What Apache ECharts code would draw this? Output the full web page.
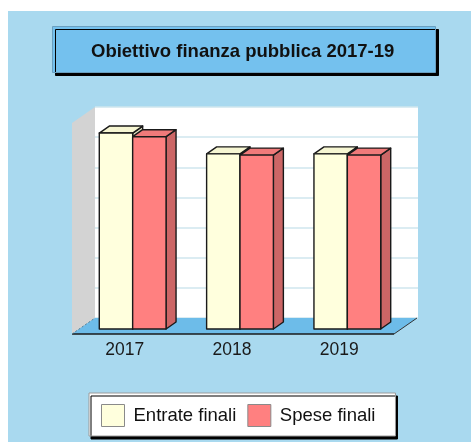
<!DOCTYPE html>
<html>
<head>
<meta charset="utf-8">
<script src="https://cdn.jsdelivr.net/npm/echarts@6/dist/echarts.min.js"></script>
<style>
  html, body { margin: 0; padding: 0; background: #ffffff; }
  #panel { position: absolute; left: 8px; top: 11px; width: 463px; height: 431px; background: #a9d9ef; }
  #chart { position: absolute; left: 0; top: 0; width: 471px; height: 442px; }
</style>
</head>
<body>
<div id="panel"></div>
<div id="chart"></div>
<script>
// Categories and values
const years = ['2017', '2018', '2019'];
const entrateFinali = [65.0, 58.1, 58.1];
const speseFinali = [63.8, 57.7, 57.7];
const seriesNames = ['Entrate finali', 'Spese finali'];

// Scale of the value axis
const AXIS_MAX = 70;
const AXIS_STEP = 10;

// Oblique projection offsets (px) relative to the bar plane
const BAR_DEPTH = [10, 7];      // bar thickness
const FLOOR_FRONT = [-7, 5];    // front edge of the floor
const FLOOR_BACK = [16, -11];   // back wall plane
const BAR_FRAC = 0.311;         // bar width as a fraction of a category band

const palette = {
  entrate: { front: '#ffffdd', top: '#f6f6d2', side: '#e0e0c0' },
  spese: { front: '#ff8080', top: '#f07a7a', side: '#cc6666' }
};

function barRenderer(slot, c) {
  return function (params, api) {
    const cat = api.value(0);
    const val = api.value(1);
    const base = api.coord([cat, 0]);
    const top = api.coord([cat, val]);
    const band = api.size([1, 0])[0];
    const w = band * BAR_FRAC;
    const x0 = base[0] - w + slot * w;
    const x1 = x0 + w;
    const yb = base[1];
    const yt = top[1];
    const dx = BAR_DEPTH[0], dy = BAR_DEPTH[1];
    const line = { stroke: '#1a1a1a', lineWidth: 1.4, lineJoin: 'round' };
    return {
      type: 'group',
      children: [
        { type: 'polygon', shape: { points: [[x1, yb], [x1 + dx, yb - dy], [x1 + dx, yt - dy], [x1, yt]] },
          style: Object.assign({ fill: c.side }, line) },
        { type: 'polygon', shape: { points: [[x0, yt], [x0 + dx, yt - dy], [x1 + dx, yt - dy], [x1, yt]] },
          style: Object.assign({ fill: c.top }, line) },
        { type: 'rect', shape: { x: x0, y: yt, width: w, height: yb - yt },
          style: Object.assign({ fill: c.front }, line) }
      ]
    };
  };
}

// Floor and left side wall, derived from the bar plane of the grid
function sceneRenderer(params) {
  const cs = params.coordSys;
  const L = cs.x, R = cs.x + cs.width, T = cs.y, B = cs.y + cs.height;
  const f = FLOOR_FRONT, b = FLOOR_BACK;
  return {
    type: 'group',
    silent: true,
    children: [
      { type: 'polygon',
        shape: { points: [[L + f[0], T + f[1]], [L + b[0], T + b[1]], [L + b[0], B + b[1]], [L + f[0], B + f[1]]] },
        style: { fill: '#d3d3d3' } },
      { type: 'polygon',
        shape: { points: [[L + f[0], B + f[1]], [L + b[0], B + b[1]], [R + b[0], B + b[1]], [R + f[0], B + f[1]]] },
        style: { fill: '#6dbce9' } },
      { type: 'line', shape: { x1: L + f[0], y1: B + f[1], x2: R + f[0], y2: B + f[1] },
        style: { stroke: '#1a1a1a', lineWidth: 1.4 } },
      { type: 'line', shape: { x1: R + f[0], y1: B + f[1], x2: R + b[0], y2: B + b[1] },
        style: { stroke: '#333', lineWidth: 1 } },
      { type: 'line', shape: { x1: L + f[0], y1: B + f[1], x2: L + b[0], y2: B + b[1] },
        style: { stroke: '#5a7f95', lineWidth: 1, lineDash: [2, 2] } }
    ]
  };
}

const chart = echarts.init(document.getElementById('chart'), null, { renderer: 'canvas' });

const hiddenValueAxis = { type: 'value', min: 0, max: AXIS_MAX, interval: AXIS_STEP };

chart.setOption({
  animation: false,
  textStyle: { fontFamily: 'Liberation Sans, Arial, sans-serif' },
  // title panel with a hard drop shadow
  graphic: [
    { type: 'rect', left: 52, top: 26, z: 0, silent: true,
      shape: { width: 383, height: 46 },
      style: { fill: '#74c1ee', stroke: '#6a9fbf', lineWidth: 1,
               shadowColor: '#000000', shadowBlur: 0, shadowOffsetX: 3, shadowOffsetY: 3 } }
  ],
  title: {
    text: 'Obiettivo finanza pubblica 2017-19',
    left: 91,
    top: 42,
    padding: 0,
    z: 5,
    textStyle: { fontSize: 18.5, fontWeight: 'bold', color: '#111111' }
  },
  legend: {
    data: seriesNames,
    left: 89,
    top: 393,
    padding: [11, 20, 9, 12],
    itemWidth: 23,
    itemHeight: 22,
    itemGap: 11,
    icon: 'rect',
    backgroundColor: '#ffffff',
    borderColor: '#9a9a9a',
    borderWidth: 1,
    shadowColor: '#000000',
    shadowBlur: 0,
    shadowOffsetX: 2,
    shadowOffsetY: 3,
    itemStyle: { borderColor: '#8a8a8a', borderWidth: 1 },
    textStyle: { fontSize: 18.5, color: '#111111', padding: [0, 0, 0, 4] }
  },
  grid: [
    // bar plane
    { left: 79, top: 118, width: 322, height: 211 },
    // back wall
    { left: 95, top: 107, width: 323, height: 211, show: true, backgroundColor: '#ffffff', borderWidth: 0 }
  ],
  xAxis: [
    { type: 'category', gridIndex: 0, data: years,
      axisLine: { show: false }, axisTick: { show: false },
      axisLabel: { fontSize: 17.5, color: '#1a1a1a', margin: 12, padding: [0, 16, 0, 0] } },
    { type: 'category', gridIndex: 1, data: years, show: false }
  ],
  yAxis: [
    Object.assign({ gridIndex: 0, show: false }, hiddenValueAxis),
    Object.assign({ gridIndex: 1,
      axisLine: { show: false }, axisTick: { show: false }, axisLabel: { show: false },
      splitLine: { show: true, lineStyle: { color: '#cfe6ee', width: 1.5 } } }, hiddenValueAxis)
  ],
  series: [
    { type: 'custom', name: 'scene', xAxisIndex: 0, yAxisIndex: 0, z: 1,
      data: [[0, 0]], renderItem: sceneRenderer },
    { type: 'custom', name: seriesNames[0], xAxisIndex: 0, yAxisIndex: 0, z: 3,
      itemStyle: { color: palette.entrate.front },
      data: entrateFinali.map((v, i) => [i, v]),
      renderItem: barRenderer(0, palette.entrate) },
    { type: 'custom', name: seriesNames[1], xAxisIndex: 0, yAxisIndex: 0, z: 4,
      itemStyle: { color: palette.spese.front },
      data: speseFinali.map((v, i) => [i, v]),
      renderItem: barRenderer(1, palette.spese) }
  ]
});
</script>
</body>
</html>
